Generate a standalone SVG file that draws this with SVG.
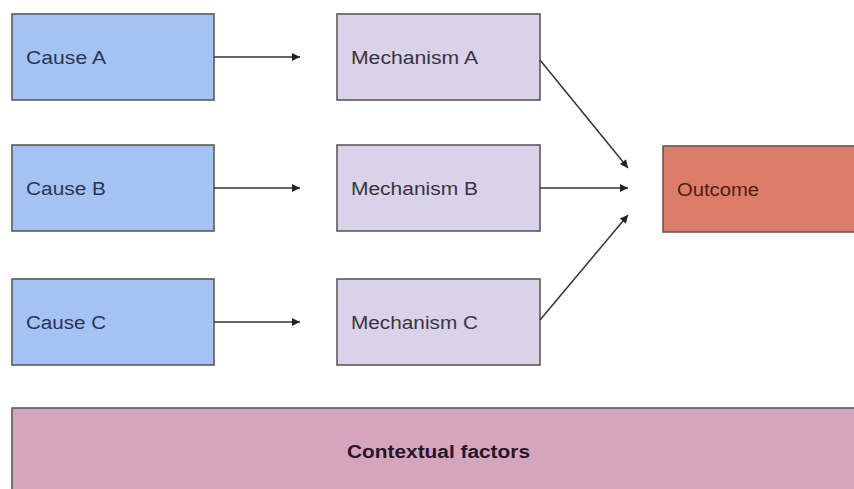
<svg xmlns="http://www.w3.org/2000/svg" width="854" height="489" viewBox="0 0 854 489">
  <style>
    .box { stroke: #5a5a5a; stroke-width: 1.6; }
    .cause { fill: #a4c2f4; }
    .mech { fill: #d9d2e9; }
    .outcome { fill: #df7c69; }
    .context { fill: #d5a5be; }
    .lbl { font-family: "Liberation Sans", Arial, sans-serif; font-size: 18px; fill: #2a3550; }
    .lbl-m { fill: #3a3540; }
    .lbl-o { fill: #4a1e18; }
    .lbl-c { font-weight: bold; fill: #2a1524; }
    .edge { stroke: #333; stroke-width: 1.5; fill: none; marker-end: url(#head); }
  </style>
  <defs>
    <marker id="head" viewBox="0 0 10 10" refX="10" refY="5" markerWidth="10" markerHeight="8" markerUnits="userSpaceOnUse" orient="auto">
      <path d="M0,0 L10,5 L0,10 z" fill="#222"/>
    </marker>
  </defs>
  <rect width="854" height="489" fill="#ffffff"/>

  <g id="cause-a">
    <rect class="box cause" x="12" y="14" width="202" height="86"/>
    <text class="lbl" x="26" y="64" textLength="80" lengthAdjust="spacingAndGlyphs">Cause A</text>
  </g>
  <g id="cause-b">
    <rect class="box cause" x="12" y="145" width="202" height="86"/>
    <text class="lbl" x="26" y="195" textLength="80" lengthAdjust="spacingAndGlyphs">Cause B</text>
  </g>
  <g id="cause-c">
    <rect class="box cause" x="12" y="279" width="202" height="86"/>
    <text class="lbl" x="26" y="329" textLength="80" lengthAdjust="spacingAndGlyphs">Cause C</text>
  </g>

  <g id="mechanism-a">
    <rect class="box mech" x="337" y="14" width="203" height="86"/>
    <text class="lbl lbl-m" x="351" y="64" textLength="127" lengthAdjust="spacingAndGlyphs">Mechanism A</text>
  </g>
  <g id="mechanism-b">
    <rect class="box mech" x="337" y="145" width="203" height="86"/>
    <text class="lbl lbl-m" x="351" y="195" textLength="127" lengthAdjust="spacingAndGlyphs">Mechanism B</text>
  </g>
  <g id="mechanism-c">
    <rect class="box mech" x="337" y="279" width="203" height="86"/>
    <text class="lbl lbl-m" x="351" y="329" textLength="127" lengthAdjust="spacingAndGlyphs">Mechanism C</text>
  </g>

  <g id="outcome">
    <rect class="box outcome" x="663" y="146" width="200" height="86"/>
    <text class="lbl lbl-o" x="677" y="196" textLength="82" lengthAdjust="spacingAndGlyphs">Outcome</text>
  </g>

  <g id="contextual-factors">
    <rect class="box context" x="12" y="408" width="860" height="100"/>
    <text class="lbl lbl-c" x="347" y="458" textLength="183" lengthAdjust="spacingAndGlyphs">Contextual factors</text>
  </g>

  <g id="connectors">
    <line class="edge" x1="214" y1="57" x2="300" y2="57"/>
    <line class="edge" x1="214" y1="188" x2="300" y2="188"/>
    <line class="edge" x1="214" y1="322" x2="300" y2="322"/>
    <line class="edge" x1="540" y1="60" x2="628" y2="168"/>
    <line class="edge" x1="540" y1="188" x2="628" y2="188"/>
    <line class="edge" x1="540" y1="320" x2="628" y2="215"/>
  </g>
</svg>
